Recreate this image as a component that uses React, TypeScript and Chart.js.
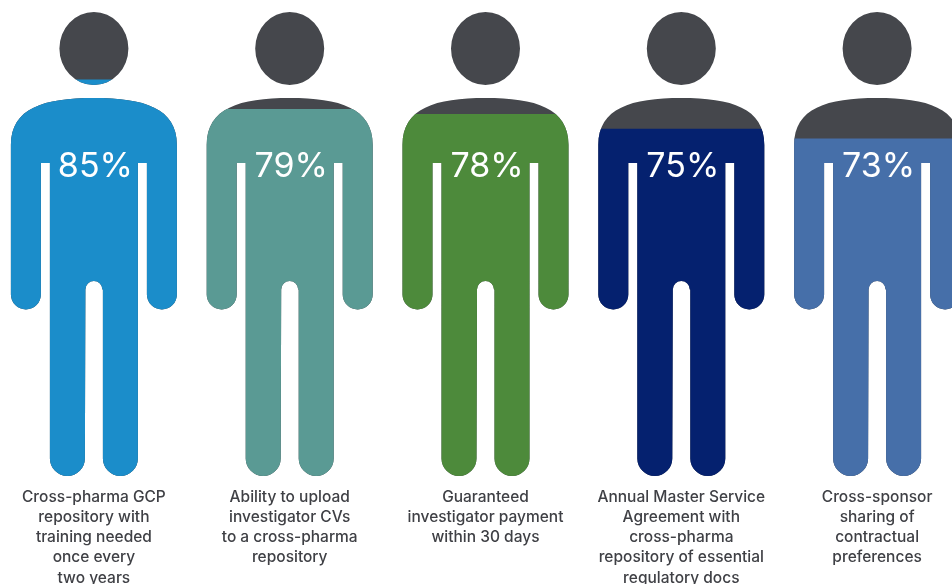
import React, { useEffect, useRef } from "react";
import { Chart, registerables, type Plugin } from "chart.js";

Chart.register(...registerables);

const categories: string[][] = [
  ["Cross-pharma GCP", "repository with", "training needed", "once every", "two years"],
  ["Ability to upload", "investigator CVs", "to a cross-pharma", "repository"],
  ["Guaranteed", "investigator payment", "within 30 days"],
  ["Annual Master Service", "Agreement with", "cross-pharma", "repository of essential", "regulatory docs"],
  ["Cross-sponsor", "sharing of", "contractual", "preferences"],
];
const percentages = [85, 79, 78, 75, 73];
const wholeFigure = [100, 100, 100, 100, 100];
const fillColors = ["#1b8dca", "#5a9a94", "#4d8a3b", "#05216f", "#466fa9"];
const remainderColor = "#45474c";

// Outline of one person, centred on x = 0 with the crown of the head at y = 0.
function personOutline(cx: number, top: number): Path2D {
  const p = new Path2D();
  const X = (dx: number) => cx + dx;
  const Y = (dy: number) => top + dy;
  p.ellipse(X(0), Y(36.5), 34.5, 36.5, 0, 0, Math.PI * 2);
  p.moveTo(X(-83), Y(282.5));
  p.lineTo(X(-83), Y(133));
  p.bezierCurveTo(X(-83), Y(96), X(-50), Y(86), X(0), Y(86));
  p.bezierCurveTo(X(50), Y(86), X(83), Y(96), X(83), Y(133));
  p.lineTo(X(83), Y(282.5));
  p.arc(X(68), Y(282.5), 15, 0, Math.PI);
  p.lineTo(X(53), Y(151));
  p.lineTo(X(44), Y(151));
  p.lineTo(X(44), Y(446.5));
  p.arc(X(26.5), Y(446.5), 17.5, 0, Math.PI);
  p.lineTo(X(9), Y(277.5));
  p.arc(X(0), Y(277.5), 8.5, 0, Math.PI, true);
  p.lineTo(X(-9), Y(446.5));
  p.arc(X(-26.5), Y(446.5), 17.5, 0, Math.PI);
  p.lineTo(X(-44), Y(151));
  p.lineTo(X(-53), Y(151));
  p.lineTo(X(-53), Y(282.5));
  p.arc(X(-68), Y(282.5), 15, 0, Math.PI);
  p.closePath();
  return p;
}

// Confines the bars to the person silhouettes, then prints each percentage on the chest.
const personPlugin: Plugin<"bar"> = {
  id: "personPlugin",
  beforeDatasetsDraw(chart) {
    const { ctx, chartArea } = chart;
    const union = new Path2D();
    chart.getDatasetMeta(0).data.forEach((bar) => {
      union.addPath(personOutline(bar.x, chartArea.top));
    });
    ctx.save();
    ctx.clip(union);
  },
  afterDatasetsDraw(chart) {
    const { ctx, chartArea } = chart;
    ctx.restore();
    ctx.save();
    ctx.fillStyle = "#ffffff";
    ctx.font = "400 34px Inter";
    ctx.textAlign = "center";
    ctx.textBaseline = "middle";
    chart.getDatasetMeta(0).data.forEach((bar, i) => {
      ctx.fillText(`${percentages[i]}%`, bar.x + 1.5, chartArea.top + 154.5);
    });
    ctx.restore();
  },
};

export default function App() {
  const canvasRef = useRef<HTMLCanvasElement>(null);

  useEffect(() => {
    const canvas = canvasRef.current;
    if (!canvas) return;
    const chart = new Chart(canvas, {
      type: "bar",
      data: {
        labels: categories,
        datasets: [
          { data: percentages, backgroundColor: fillColors, barThickness: 170, grouped: false },
          { data: wholeFigure, backgroundColor: remainderColor, barThickness: 170, grouped: false },
        ],
      },
      options: {
        responsive: false,
        animation: false,
        layout: { padding: { top: 12, left: 0, right: 0, bottom: 0 } },
        plugins: { legend: { display: false }, tooltip: { enabled: false } },
        scales: {
          x: {
            grid: { display: false, drawTicks: false },
            border: { display: false },
            afterFit: (scale: any) => {
              scale.height = 108;
            },
            ticks: {
              autoSkip: false,
              maxRotation: 0,
              minRotation: 0,
              padding: 11,
              color: "#3f4045",
              font: { family: "Inter", size: 15.5, weight: "500", lineHeight: 20.2 / 15.5 },
            },
          },
          y: { display: false, min: 4.5, max: 98.8 },
        },
      },
      plugins: [personPlugin],
    });
    return () => chart.destroy();
  }, []);

  return (
    <div style={{ position: "fixed", inset: 0, overflow: "hidden", background: "#fff" }}>
      <canvas ref={canvasRef} width={979} height={584} style={{ position: "absolute", left: -4, top: 0 }} />
    </div>
  );
}
